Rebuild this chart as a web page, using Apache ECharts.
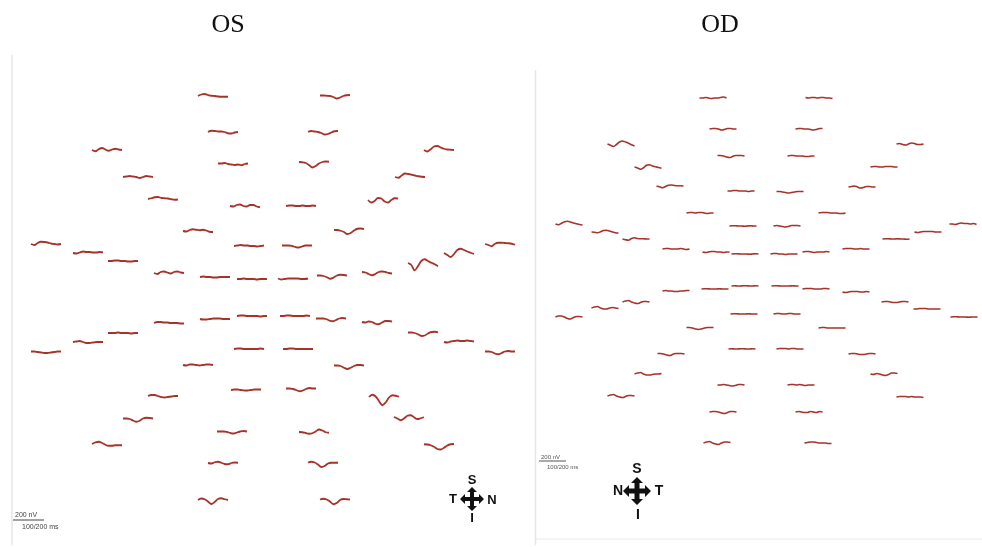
<!DOCTYPE html>
<html>
<head>
<meta charset="utf-8">
<script src="https://cdn.jsdelivr.net/npm/echarts@6.0.0/dist/echarts.min.js"></script>
<style>
  html, body { margin: 0; padding: 0; background: #ffffff; }
  #chart { width: 982px; height: 547px; }
</style>
</head>
<body>
<div id="chart"></div>
<script>
// Multifocal ERG trace arrays, left eye (OS) and right eye (OD).
// Trace centres are given in field-plot units; each waveform is 10 samples in nV.

const eyeTitles = ['OS', 'OD'];

// ---- OS (left eye) ----
const osX = [213, 335, 223, 323, 233, 314, 245, 301, 249, 297,
             107, 138, 163, 198, 439, 410, 383, 349,
             46, 88, 123, 169, 215, 252, 293, 332, 377, 423, 459, 500,
             46, 88, 123, 169, 215, 252, 295, 331, 377, 423, 459, 500,
             198, 163, 138, 107, 349, 384, 409, 439,
             249, 298, 246, 301, 232, 314, 223, 323, 213, 335];
const osY = [96, 96, 132, 132, 164, 163, 206, 206, 246, 246,
             150, 177, 199, 231, 150, 177, 200, 230,
             244, 253, 261, 273, 277, 279, 279, 276, 273, 263, 253, 244,
             352, 342, 333, 323, 319, 316, 316, 319, 322, 333, 342, 352,
             365, 396, 419, 444, 366, 397, 417, 445,
             349, 349, 390, 389, 432, 432, 463, 463, 500, 500];
const osWaves = [
  [0, 30, 40, 20, 5, 0, -10, -15, -15, -15],
  [10, 10, 5, 0, -20, -50, -30, 0, 15, 20],
  [0, 25, 20, 10, 10, 0, -25, -30, -10, 0],
  [5, 20, 10, 0, -20, -50, -40, -10, 15, 20],
  [10, 10, 20, 0, -10, -20, -10, -25, 0, 10],
  [20, 15, 0, -40, -90, -60, -10, 20, 30, 25],
  [0, -10, 20, 30, 0, -10, 20, 20, -10, -25],
  [0, 10, 10, 0, 0, 10, 0, 0, 10, 0],
  [0, 10, 20, 10, 10, 0, 0, -10, 0, 10],
  [10, 10, 10, 0, -20, -30, -10, 10, 10, 10],
  [0, -25, 15, 40, 10, -15, 10, 25, 10, 0],
  [0, 10, 20, 10, 0, -20, 0, 20, 10, 0],
  [0, 15, 35, 40, 20, 15, 10, -5, -15, -10],
  [0, -10, 20, 35, 25, 15, 25, 10, -15, -20],
  [0, -30, 15, 70, 80, 50, 25, 10, 5, 0],
  [0, -15, 30, 70, 60, 45, 30, 15, 5, 0],
  [0, -50, -20, 40, 30, -30, -50, 0, 35, 30],
  [0, 0, -15, -40, -80, -60, -10, 25, 30, 20],
  [0, -20, 20, 45, 40, 30, 10, 0, -10, 0],
  [0, -10, 10, 30, 20, 20, 10, 10, 20, 10],
  [0, 0, 10, 10, 0, 0, -10, -10, 0, 0],
  [0, -20, 20, 30, 10, -10, 20, 30, 10, 0],
  [0, 10, 0, 0, -10, -10, 0, 0, 0, 0],
  [0, 0, 10, 0, 0, 0, -10, 0, 0, 0],
  [10, -10, 0, 10, 10, 10, 10, 0, 0, 10],
  [10, 10, 0, -25, -55, -30, 10, 25, 20, 10],
  [20, 10, -20, -45, -20, 20, 30, 20, 0, -10],
  [0, -40, -145, -60, 40, 75, 40, 5, -25, -65],
  [0, -40, -80, -20, 60, 85, 60, 30, 5, -20],
  [0, -20, -45, 5, 25, 25, 20, 15, 5, -15],
  [10, 10, 0, -10, -20, -20, -10, 0, 10, 10],
  [0, 10, 20, 0, -20, -20, -10, 0, 0, 0],
  [0, 0, 0, 10, 0, 0, 0, -10, 0, 0],
  [0, 20, 20, 10, 10, 0, 0, 0, -10, -10],
  [0, -10, -10, 0, 10, 10, 10, 0, 0, 0],
  [0, 10, 10, 0, 0, 0, 0, -10, 0, 0],
  [0, 0, 10, 10, 0, 0, 0, 0, 10, 0],
  [10, 10, 10, 0, -30, -45, -20, 10, 20, 10],
  [0, -10, 10, 0, -35, -45, -10, 20, 20, 10],
  [10, 10, 0, -25, -60, -50, -10, 20, 25, 15],
  [0, -10, 10, 20, 30, 20, 20, 30, 20, 10],
  [10, 10, 0, -30, -45, -20, 10, 20, 10, 10],
  [0, -10, 10, 10, 0, -10, 0, 10, 10, 0],
  [0, 20, 20, 0, -20, -30, -20, -10, 0, 0],
  [10, 10, 0, -30, -55, -35, 10, 25, 20, 10],
  [0, 30, 45, 20, -15, -35, -35, -25, -25, -25],
  [10, 10, 0, -35, -60, -35, 0, 20, 20, 10],
  [0, 45, 10, -80, -165, -110, -10, 35, 25, 5],
  [0, -30, -65, -30, 25, 35, -5, -40, -25, -5],
  [15, 10, -5, -35, -80, -90, -55, -10, 15, 20],
  [0, 10, 10, 0, 0, 0, 0, 0, 10, 0],
  [0, 0, 10, 10, 0, 0, 0, 0, 0, 0],
  [0, 10, 10, 0, -10, -10, 0, 10, 10, 10],
  [10, 10, 0, -20, -45, -30, 0, 20, 10, 10],
  [10, 10, 10, 0, -20, -30, -10, 10, 20, 10],
  [0, -5, -20, -35, -25, 10, 50, 30, -5, -15],
  [0, -10, 15, 25, 5, -20, -25, 0, 10, 5],
  [10, 25, 10, -30, -80, -60, -10, 5, 5, 5],
  [0, 30, 15, -30, -80, -40, 20, 35, 15, 0],
  [10, 25, 10, -30, -85, -60, 0, 20, 15, 10]
];

// ---- OD (right eye) ----
const odX = [713, 819, 723, 809, 731, 801, 741, 790, 743, 787,
             621, 648, 670, 700, 910, 884, 862, 832,
             569, 605, 636, 676, 716, 745, 784, 816, 856, 896, 928, 963,
             569, 605, 636, 676, 715, 745, 785, 816, 856, 895, 927, 964,
             700, 671, 648, 621, 832, 862, 884, 910,
             744, 787, 742, 790, 731, 801, 723, 809, 717, 818];
const odY = [98, 98, 129, 129, 156, 156, 191, 192, 226, 226,
             144, 167, 186, 213, 144, 167, 187, 213,
             224, 232, 239, 249, 252, 254, 254, 252, 249, 239, 232, 224,
             317, 308, 302, 291, 289, 286, 286, 289, 292, 302, 309, 317,
             328, 354, 374, 396, 328, 354, 374, 397,
             314, 314, 349, 349, 385, 385, 412, 412, 443, 443];
const odWaves = [
  [0, 0, 10, 0, -10, 0, 0, 10, 20, 0],
  [10, 0, 10, 10, 0, 10, 10, 0, 0, -10],
  [0, 10, 10, 0, -20, -10, 10, 10, 0, 0],
  [0, 10, 10, 0, 0, -10, -20, -10, 10, 10],
  [10, 10, 0, -20, -30, -10, 10, 10, 10, 0],
  [0, 10, 10, 0, 0, 0, -10, -10, 0, 0],
  [0, 0, 10, 10, 0, 0, 0, -10, 0, 0],
  [10, 10, 0, -10, -20, -10, 0, 10, 10, 10],
  [0, 5, 5, 0, 0, -5, 0, 5, 0, 0],
  [0, 10, 0, -10, -20, -10, 10, 10, 10, 0],
  [0, -25, -50, -10, 40, 60, 40, 15, -15, -40],
  [0, -20, -45, -15, 35, 45, 20, 5, -10, -25],
  [0, -15, -35, -10, 15, 20, 10, 5, 5, 0],
  [0, 10, 10, 0, 10, 10, 0, -10, 0, 0],
  [0, 10, -10, -20, 0, 20, 10, -10, -10, 0],
  [0, 10, 10, 0, 0, 10, 10, 10, 0, 0],
  [0, 10, 20, 0, -20, -10, 10, 10, 0, 0],
  [0, 10, 10, 10, 0, 0, 0, -10, -10, 0],
  [0, -15, 15, 45, 55, 40, 20, 5, -10, -20],
  [0, -5, -15, 5, 30, 35, 20, 0, -15, -20],
  [0, -15, -25, 10, 25, 10, 5, 5, 0, 0],
  [0, 10, 10, 0, 0, 0, 10, 0, -10, 0],
  [0, -10, 0, 10, 10, 0, 0, -10, 0, 0],
  [0, 5, 5, 0, 0, 0, -5, 0, 5, 0],
  [0, 10, 10, 0, 0, -10, 0, 0, 0, 0],
  [0, 10, 10, 0, -10, 0, 0, 0, 10, 0],
  [0, 10, 10, 10, 0, 0, 10, 0, 0, 0],
  [0, 5, 5, 0, 0, 5, 0, 0, -5, 0],
  [0, -10, 0, 10, 10, 10, 10, 0, 0, 0],
  [0, 0, -10, 10, 20, 10, 10, 0, 10, -10],
  [0, 20, 20, 0, -30, -40, -10, 10, 10, 0],
  [0, 20, 30, 0, -20, -20, 0, 10, 0, -10],
  [0, 20, 30, 0, -20, -30, -10, 10, 10, 0],
  [0, 10, 0, 0, -10, -10, 0, 0, 10, 10],
  [0, 5, 5, 0, 0, 0, 5, 0, 0, 0],
  [0, 5, 0, 0, 5, 5, 0, 0, 5, 0],
  [0, 5, 5, 0, 0, 0, 0, 5, 0, 0],
  [0, 10, 10, 10, 0, 0, 0, 10, 10, 0],
  [0, -10, 0, 10, 10, 10, 0, 0, 10, 0],
  [0, 10, 10, 0, -10, -10, 0, 10, 10, 0],
  [0, 0, 10, 10, 10, 0, 0, 0, 0, 0],
  [0, 5, 5, 0, 0, 0, -5, 0, 0, 0],
  [10, 10, 0, -20, -30, -20, 0, 10, 10, 10],
  [10, 10, 0, -20, -30, -10, 10, 10, 10, 0],
  [0, 20, 30, 0, -20, -20, -10, 0, 0, 10],
  [0, 20, 30, 0, -20, -30, -10, 10, 10, 0],
  [0, 10, 10, 0, 0, 0, 0, 0, 0, 0],
  [0, 10, 10, 0, -10, -10, 0, 10, 10, 0],
  [0, -10, 10, 0, -20, -30, -10, 20, 20, 10],
  [0, 10, 10, 10, 0, 10, 0, 0, 0, -10],
  [0, 5, 5, 0, 0, 0, 5, 0, 0, 0],
  [0, 10, 10, 0, 0, 10, 10, 0, 0, 0],
  [0, 5, 0, 0, 5, 5, 0, 0, 5, 0],
  [0, 10, 10, 10, 0, 10, 10, 0, 0, 0],
  [0, 0, 10, 0, -10, -20, -10, 10, 10, 0],
  [0, 10, 10, 0, 10, 0, -10, 0, 0, 0],
  [0, 10, 10, 0, -20, -30, -10, 10, 10, 0],
  [0, 10, 0, -10, -10, 10, 0, -10, 10, 0],
  [0, 20, 30, 0, -20, -30, 0, 20, 20, 10],
  [0, 10, 20, 20, 10, 0, 0, 0, -10, -10]
];

// Scale-bar labels
const scaleLabels = ['200 nV', '100/200 ms'];

// Display scaling: nV per plot unit (vertical) and trace span (horizontal)
const NV_PER_UNIT = 20;
const OS_SPAN = 30;
const OD_SPAN = 27;
const TRACE_COLOR = '#a5332a';

function traceSeries(xs, ys, waves, span, width) {
  return waves.map((w, k) => ({
    type: 'line',
    silent: true,
    symbol: 'none',
    smooth: 0.35,
    animation: false,
    lineStyle: { color: TRACE_COLOR, width: width },
    data: w.map((v, i) => [
      xs[k] + (i / (w.length - 1) - 0.5) * span,
      ys[k] - v / NV_PER_UNIT
    ])
  }));
}

// Four-way orientation arrow as a polygon around (cx, cy)
function compass(cx, cy, L, H, hl, w) {
  const p = [
    [0, -L], [H, -L + hl], [w, -L + hl], [w, -w], [L - hl, -w], [L - hl, -H], [L, 0],
    [L - hl, H], [L - hl, w], [w, w], [w, L - hl], [H, L - hl], [0, L],
    [-H, L - hl], [-w, L - hl], [-w, w], [-L + hl, w], [-L + hl, H], [-L, 0],
    [-L + hl, -H], [-L + hl, -w], [-w, -w], [-w, -L + hl], [-H, -L + hl]
  ];
  return {
    type: 'polygon',
    shape: { points: p.map(q => [cx + q[0], cy + q[1]]) },
    style: { fill: '#111' }
  };
}

function label(text, x, y, font, color, align) {
  return {
    type: 'text', x: x, y: y,
    style: {
      text: text, font: font, fill: color || '#111',
      align: align || 'center', textAlign: align || 'center',
      verticalAlign: 'middle', textVerticalAlign: 'middle'
    }
  };
}

const compassFont = 'bold 13px "Liberation Sans", Arial, sans-serif';
const compassFontOD = 'bold 14px "Liberation Sans", Arial, sans-serif';
const titleFont = '26px "Liberation Serif", "Times New Roman", serif';

const chart = echarts.init(document.getElementById('chart'), null, { renderer: 'canvas' });

chart.setOption({
  backgroundColor: '#ffffff',
  animation: false,
  grid: { left: 0, right: 0, top: 0, bottom: 0 },
  xAxis: { type: 'value', min: 0, max: 982, show: false },
  yAxis: { type: 'value', min: 0, max: 547, inverse: true, show: false },
  series: traceSeries(osX, osY, osWaves, OS_SPAN, 1.8).concat(traceSeries(odX, odY, odWaves, OD_SPAN, 1.6)),
  graphic: [
    // panel edges
    { type: 'line', shape: { x1: 12, y1: 55, x2: 12, y2: 545 }, style: { stroke: '#e6e6e6', lineWidth: 1.5 } },
    { type: 'line', shape: { x1: 535.5, y1: 70, x2: 535.5, y2: 545 }, style: { stroke: '#e6e6e6', lineWidth: 1.5 } },
    { type: 'line', shape: { x1: 536, y1: 539, x2: 982, y2: 539 }, style: { stroke: '#f0f0f0', lineWidth: 1.5 } },

    // eye titles
    label(eyeTitles[0], 228, 25, titleFont, '#111'),
    label(eyeTitles[1], 720, 25, titleFont, '#111'),

    // OS scale bar
    { type: 'line', shape: { x1: 13, y1: 520, x2: 44, y2: 520 }, style: { stroke: '#444', lineWidth: 1 } },
    label(scaleLabels[0], 15, 515, '7px "Liberation Sans", Arial, sans-serif', '#444', 'left'),
    label(scaleLabels[1], 22, 527, '7px "Liberation Sans", Arial, sans-serif', '#444', 'left'),

    // OD scale bar
    { type: 'line', shape: { x1: 539, y1: 461, x2: 566, y2: 461 }, style: { stroke: '#555', lineWidth: 1 } },
    label(scaleLabels[0], 541, 457, '6px "Liberation Sans", Arial, sans-serif', '#555', 'left'),
    label(scaleLabels[1], 547, 467, '6px "Liberation Sans", Arial, sans-serif', '#555', 'left'),

    // OS orientation marker
    compass(472, 499, 12, 5, 5, 2),
    label('S', 472, 480, compassFont),
    label('I', 472, 518, compassFont),
    label('T', 453, 499, compassFont),
    label('N', 492, 500, compassFont),

    // OD orientation marker
    compass(637, 491, 14, 6, 6, 2.5),
    label('S', 637, 469, compassFontOD),
    label('I', 638, 515, compassFontOD),
    label('N', 618, 491, compassFontOD),
    label('T', 659, 491, compassFontOD)
  ]
});
</script>
</body>
</html>
